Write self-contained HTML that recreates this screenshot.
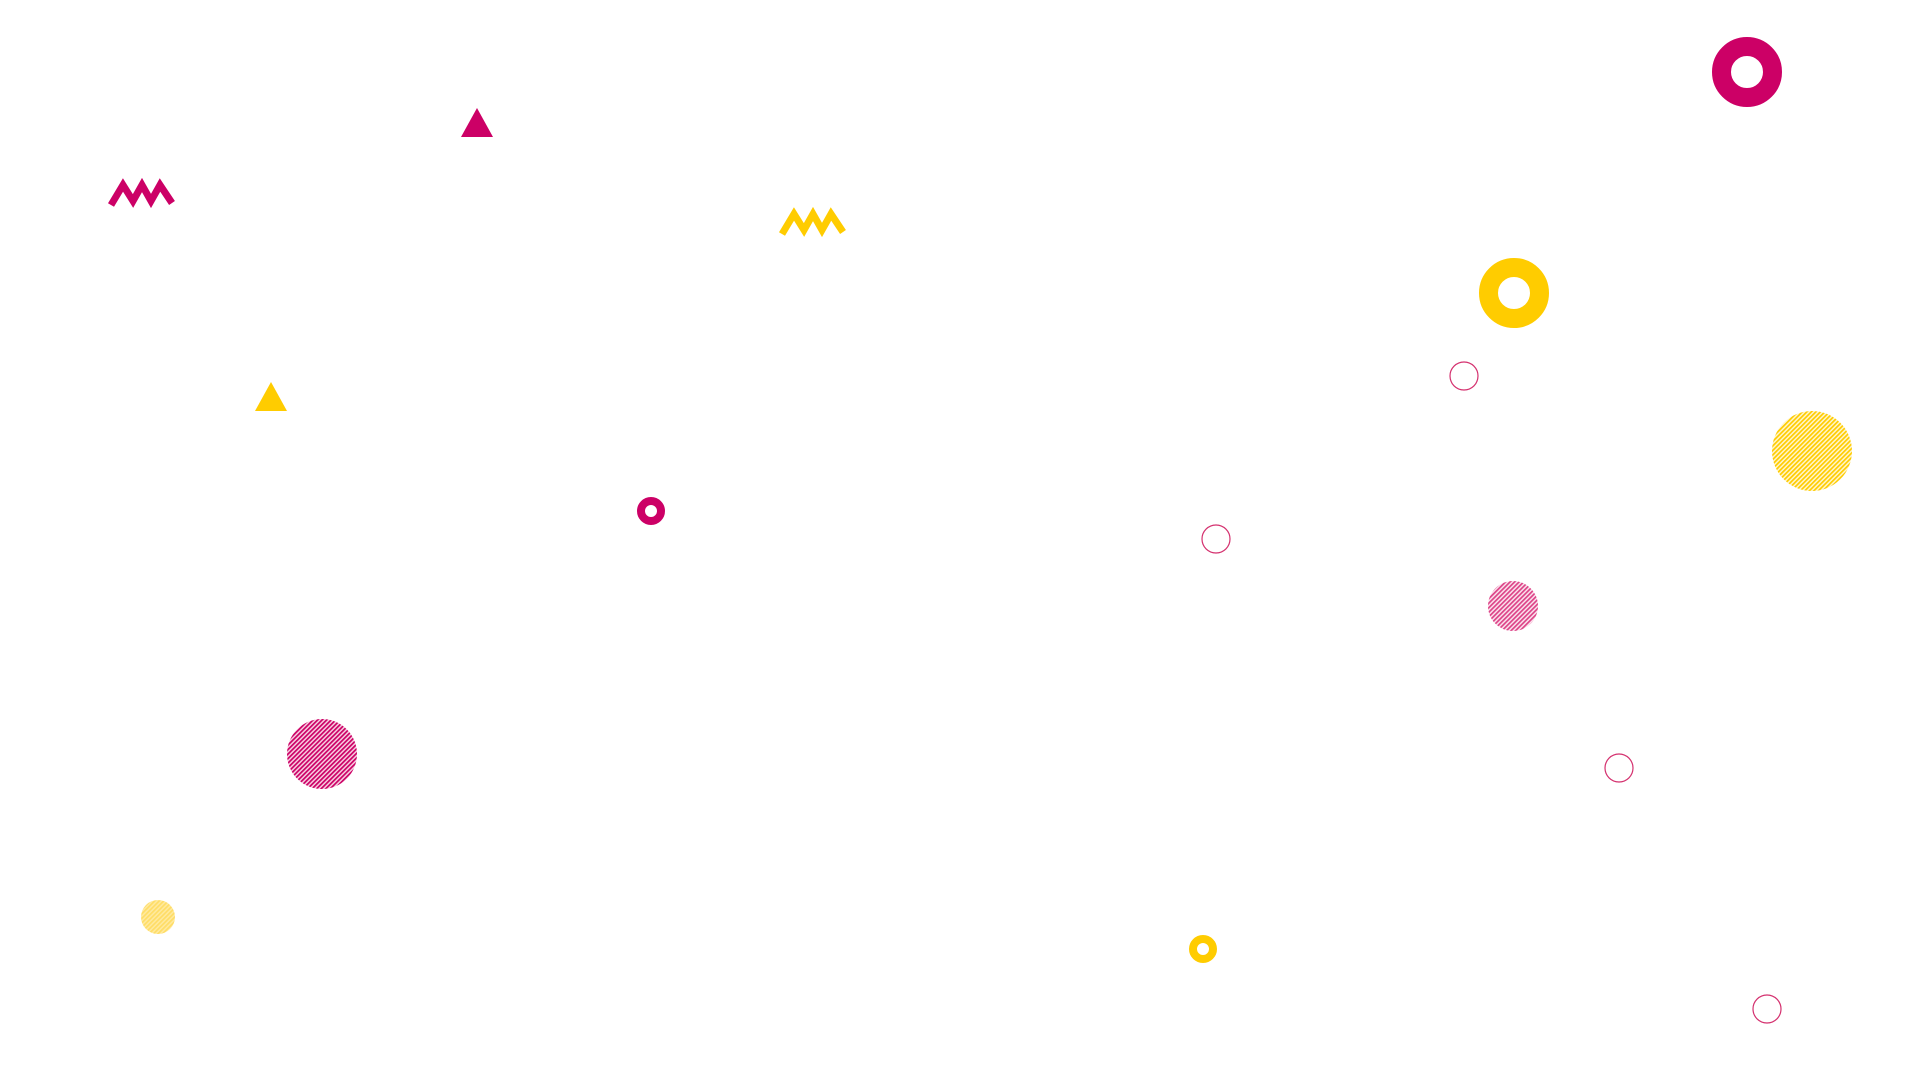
<!DOCTYPE html>
<html><head><style>html,body{margin:0;padding:0;background:#fff;}svg{display:block}</style></head>
<body>
<svg width="1920" height="1080" viewBox="0 0 1920 1080" xmlns="http://www.w3.org/2000/svg">
<defs>
<pattern id="hp" width="3.2" height="3.2" patternUnits="userSpaceOnUse" patternTransform="rotate(45)">
<rect width="3.2" height="3.2" fill="#f7d0e2"/><rect width="1.7" height="3.2" fill="#cc0066"/></pattern>
<pattern id="hpl" width="3.2" height="3.2" patternUnits="userSpaceOnUse" patternTransform="rotate(45)">
<rect width="3.2" height="3.2" fill="#fbe3ee"/><rect width="1.7" height="3.2" fill="#dd4488"/></pattern>
<pattern id="hy" width="3.2" height="3.2" patternUnits="userSpaceOnUse" patternTransform="rotate(45)">
<rect width="3.2" height="3.2" fill="#fff6d0"/><rect width="1.7" height="3.2" fill="#ffcc00"/></pattern>
<pattern id="hyl" width="3.2" height="3.2" patternUnits="userSpaceOnUse" patternTransform="rotate(45)">
<rect width="3.2" height="3.2" fill="#ffeaa0"/><rect width="1.7" height="3.2" fill="#ffdd66"/></pattern>
</defs>
<circle cx="1747" cy="72" r="25.5" fill="none" stroke="#cc0066" stroke-width="19"/>
<circle cx="1514" cy="293" r="25.5" fill="none" stroke="#ffcc00" stroke-width="19"/>
<circle cx="651" cy="511" r="10" fill="none" stroke="#cc0066" stroke-width="8"/>
<circle cx="1203" cy="949" r="10" fill="none" stroke="#ffcc00" stroke-width="8"/>
<circle cx="1464" cy="376" r="14" fill="none" stroke="#d4306e" stroke-width="1.2"/>
<circle cx="1216" cy="539" r="14" fill="none" stroke="#d4306e" stroke-width="1.2"/>
<circle cx="1619" cy="768" r="14" fill="none" stroke="#d4306e" stroke-width="1.2"/>
<circle cx="1767" cy="1009" r="14" fill="none" stroke="#d4306e" stroke-width="1.2"/>
<circle cx="1812" cy="451" r="40" fill="url(#hy)"/>
<circle cx="1513" cy="606" r="25" fill="url(#hpl)"/>
<circle cx="322" cy="754" r="35" fill="url(#hp)"/>
<circle cx="158" cy="917" r="17" fill="url(#hyl)"/>
<polygon points="477,108 493,137 461,137" fill="#cc0066"/>
<polygon points="271,382 287,411 255,411" fill="#ffcc00"/>
<polyline points="111,205 123,185 133,201 142,185 151,201 160,185 172,203" fill="none" stroke="#cc0066" stroke-width="7" stroke-linejoin="miter"/>
<polyline points="782,234 794,214 804,230 813,214 822,230 831,214 843,232" fill="none" stroke="#ffcc00" stroke-width="7" stroke-linejoin="miter"/>
</svg>
</body></html>
